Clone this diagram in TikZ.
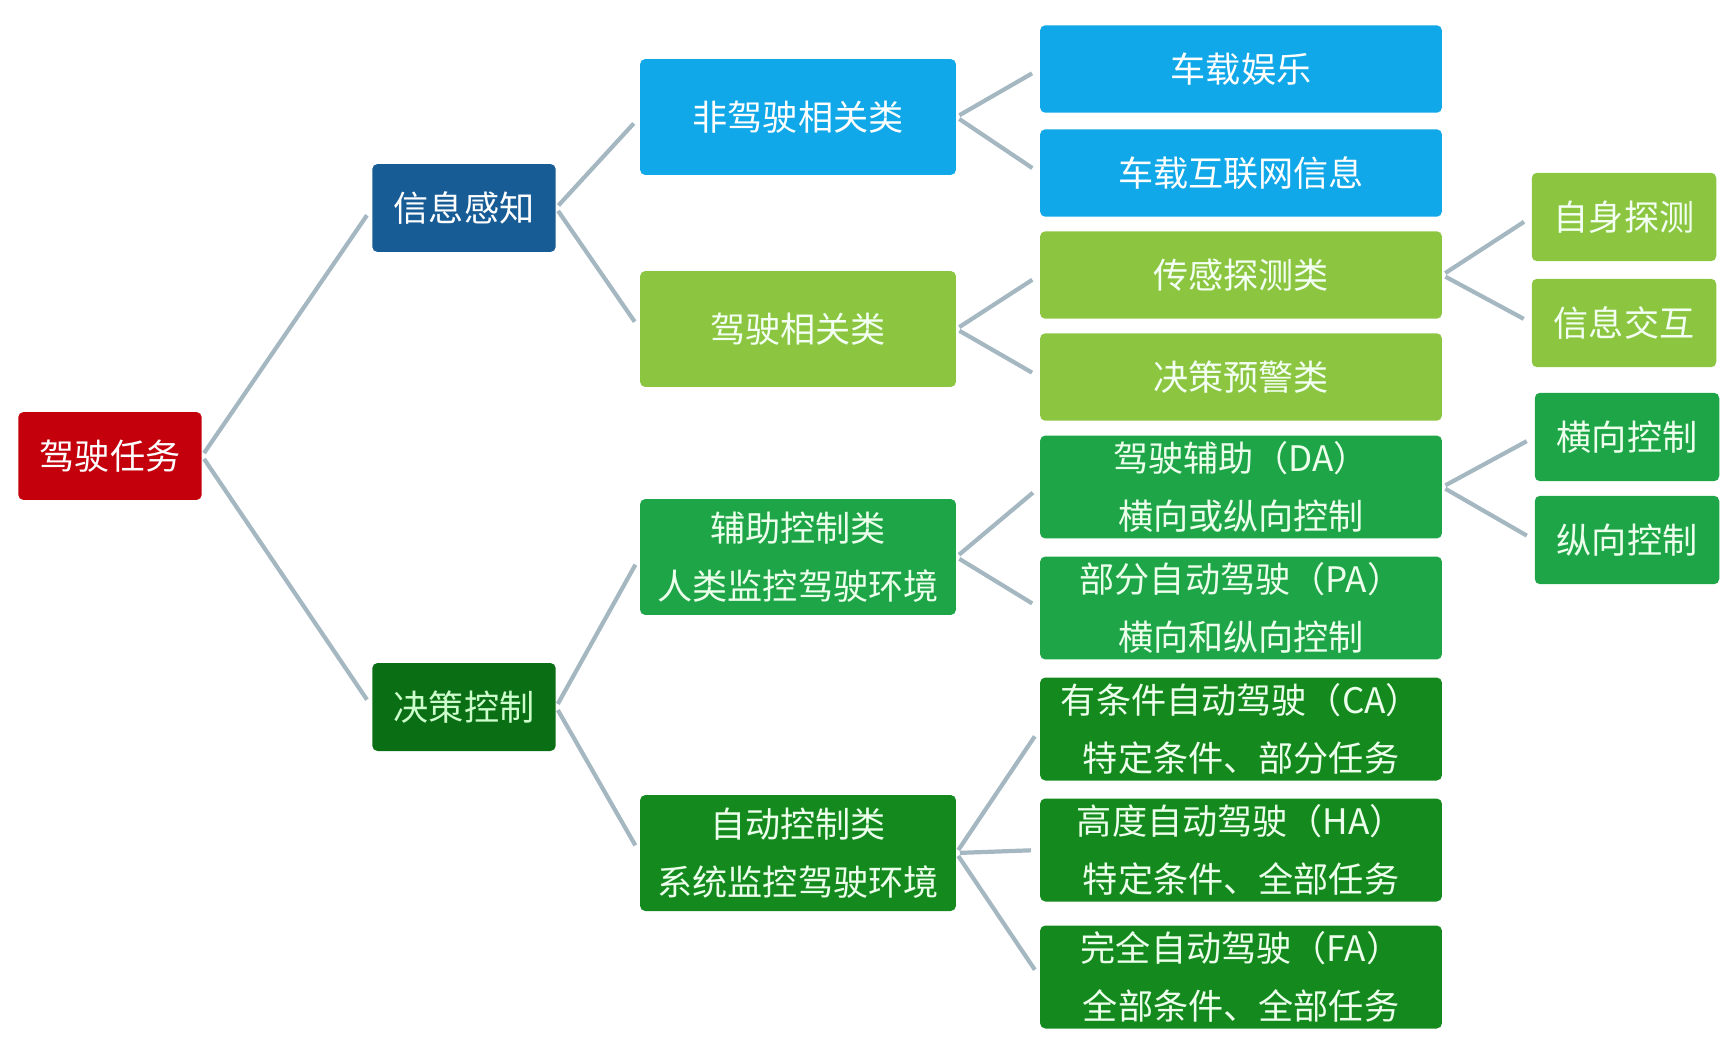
\documentclass[tikz,border=0pt]{standalone}
\usepackage{fontspec}
\setmainfont{Noto Sans CJK SC}
\usetikzlibrary{positioning}

\definecolor{taskred}{RGB}{196,0,12}
\definecolor{infoblue}{RGB}{24,92,150}
\definecolor{ctrlgreen}{RGB}{10,110,20}
\definecolor{skyblue}{RGB}{16,168,232}
\definecolor{leafgreen}{RGB}{140,198,64}
\definecolor{midgreen}{RGB}{30,165,72}
\definecolor{deepgreen}{RGB}{20,138,30}
\definecolor{linkgrey}{RGB}{165,184,194}

\begin{document}
\begin{tikzpicture}[
    x=0.02cm, y=-0.02cm,
    box/.style={rectangle, rounded corners=3pt, text=white, align=center,
    inner sep=0pt, font=\fontsize{20}{33}\selectfont},
    small/.style={box, minimum width=3.67cm, minimum height=1.76cm},
    mid/.style={box, minimum width=6.32cm, minimum height=2.32cm},
    wide/.style={box, minimum width=8.04cm, minimum height=1.75cm},
    widetwo/.style={box, minimum width=8.04cm, minimum height=2.06cm},
    tip/.style={box, minimum width=3.69cm, minimum height=1.77cm},
    link/.style={draw=linkgrey, line width=2.4pt, shorten <=2pt, shorten >=5pt}
]
\useasboundingbox (0,0) rectangle (1733,1051);

% ---------------- ROOT ----------------
\node[small, fill=taskred] (task) at (110,456) {驾驶任务};

% ---------------- LEVEL 1 ----------------
\node[small, fill=infoblue] (info) at (464,208) {信息感知};
\node[small, fill=ctrlgreen, text=green!20!white] (ctrl) at (464,707) {决策控制};

\draw[link] (task.east)--(info.west);
\draw[link] (task.east)--(ctrl.west);

% ---------------- LEVEL 2 ----------------
\node[mid, fill=skyblue] (nondrive) at (798,117) {非驾驶相关类};
\node[mid, fill=leafgreen, text=green!5!white] (drive) at (798,329) {驾驶相关类};
\node[mid, fill=midgreen, text=green!8!white] (assist) at (798,557)
{辅助控制类\\人类监控驾驶环境};
\node[mid, fill=deepgreen, text=green!8!white] (auto) at (798,853)
{自动控制类\\系统监控驾驶环境};

\draw[link] (info.east)--(nondrive.west);
\draw[link] (info.east)--(drive.west);
\draw[link] (ctrl.east)--(assist.west);
\draw[link] (ctrl.east)--(auto.west);

% ---------------- LEVEL 3 ----------------
\node[wide, fill=skyblue] (fun) at (1241,69) {车载娱乐};
\node[wide, fill=skyblue] (net) at (1241,173) {车载互联网信息};
\node[wide, fill=leafgreen, text=green!5!white] (sense) at (1241,275) {传感探测类};
\node[wide, fill=leafgreen, text=green!5!white] (warn) at (1241,377) {决策预警类};
\node[widetwo, fill=midgreen, text=green!8!white] (da) at (1241,487)
{驾驶辅助（DA）\\横向或纵向控制};
\node[widetwo, fill=midgreen, text=green!8!white] (pa) at (1241,608)
{部分自动驾驶（PA）\\横向和纵向控制};
\node[widetwo, fill=deepgreen, text=green!8!white] (ca) at (1241,729)
{有条件自动驾驶（CA）\\特定条件、部分任务};
\node[widetwo, fill=deepgreen, text=green!8!white] (ha) at (1241,850)
{高度自动驾驶（HA）\\特定条件、全部任务};
\node[widetwo, fill=deepgreen, text=green!8!white] (fa) at (1241,977)
{完全自动驾驶（FA）\\全部条件、全部任务};

\draw[link] (nondrive.east)--(fun.west);
\draw[link] (nondrive.east)--(net.west);
\draw[link] (drive.east)--(sense.west);
\draw[link] (drive.east)--(warn.west);
\draw[link] (assist.east)--(da.west);
\draw[link] (assist.east)--(pa.west);
\draw[link] (auto.east)--(ca.west);
\draw[link] (auto.east)--(ha.west);
\draw[link] (auto.east)--(fa.west);

% ---------------- LEVEL 4 ----------------
\node[tip, fill=leafgreen, text=green!5!white] (self) at (1624,217) {自身探测};
\node[tip, fill=leafgreen, text=green!5!white] (share) at (1624,323) {信息交互};
\node[tip, fill=midgreen, text=green!8!white] (lat) at (1627,437) {横向控制};
\node[tip, fill=midgreen, text=green!8!white] (lon) at (1627,540) {纵向控制};

\draw[link] (sense.east)--(self.west);
\draw[link] (sense.east)--(share.west);
\draw[link] (da.east)--(lat.west);
\draw[link] (da.east)--(lon.west);

\end{tikzpicture}
\end{document}
